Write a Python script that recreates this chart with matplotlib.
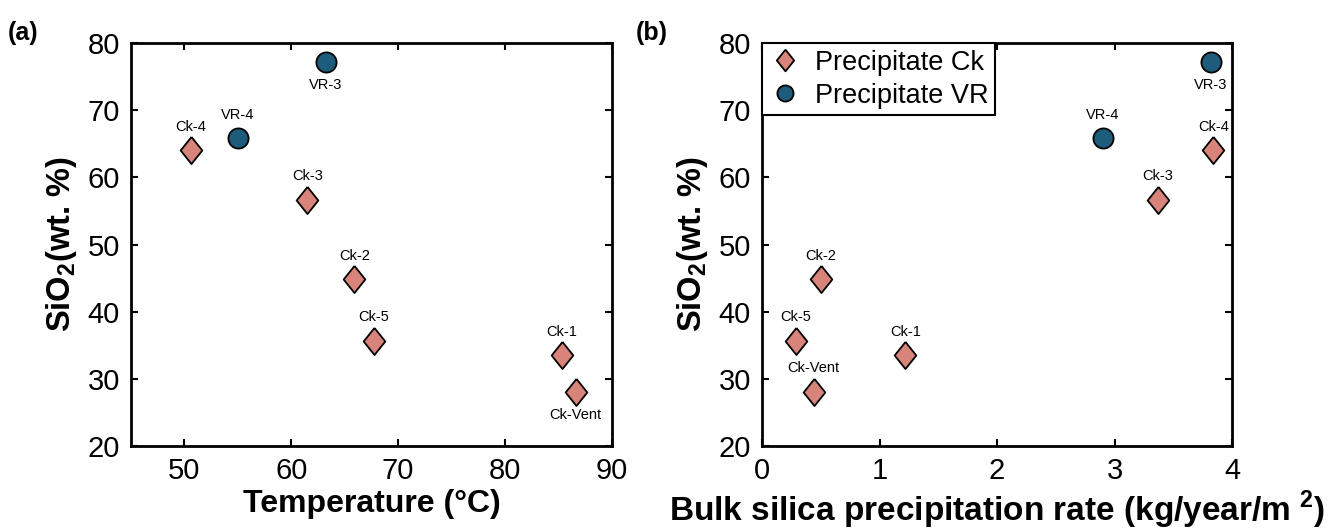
import matplotlib
matplotlib.use("Agg")
import matplotlib.pyplot as plt

plt.rcParams['font.family'] = ['Liberation Sans Narrow', 'Liberation Sans', 'DejaVu Sans']
plt.rcParams['mathtext.fontset'] = 'custom'
plt.rcParams['mathtext.rm'] = 'Liberation Sans'
plt.rcParams['mathtext.bf'] = 'Liberation Sans:bold'

# ---------------- Data ----------------
ck_names = ["Ck-4", "Ck-3", "Ck-2", "Ck-5", "Ck-1", "Ck-Vent"]
ck_temp = [50.6, 61.5, 65.9, 67.7, 85.3, 86.6]
ck_rate = [3.84, 3.37, 0.50, 0.29, 1.22, 0.44]
ck_sio2 = [64.0, 56.7, 44.8, 35.7, 33.5, 28.1]

vr_names = ["VR-4", "VR-3"]
vr_temp = [55.0, 63.2]
vr_rate = [2.90, 3.82]
vr_sio2 = [65.9, 77.2]

# label placement (above=+1, below=-1)
ck_pos_a = [1, 1, 1, 1, 1, -1]
ck_pos_b = [1, 1, 1, 1, 1, 1]
vr_pos = [1, -1]

ck_color = "#D8847A"
vr_color = "#1E5C7C"

# wider diamond than the stock 'd'
diamond = [(0, 1), (0.8, 0), (0, -1), (-0.8, 0), (0, 1)]
bold_sans = ["Liberation Sans", "DejaVu Sans"]

fig = plt.figure(figsize=(13.35, 5.29), dpi=100)
ax1 = fig.add_axes([0.0981, 0.1569, 0.3603, 0.7618])
ax2 = fig.add_axes([0.5708, 0.1569, 0.3521, 0.7618])


def draw(ax, ck_x, vr_x, ck_pos):
    ax.plot(ck_x, ck_sio2, linestyle="none", marker=diamond, markersize=19.5,
            markerfacecolor=ck_color, markeredgecolor="black", markeredgewidth=1.3,
            label="Precipitate Ck", zorder=3)
    ax.plot(vr_x, vr_sio2, linestyle="none", marker="o", markersize=14.5,
            markerfacecolor=vr_color, markeredgecolor="black", markeredgewidth=1.3,
            label="Precipitate VR", zorder=3)
    for name, x, y, p in zip(ck_names, ck_x, ck_sio2, ck_pos):
        ax.annotate(name, (x, y), xytext=(0, 12 * p), textcoords="offset points",
                    ha="center", va="bottom" if p > 0 else "top", fontsize=10.5)
    for name, x, y, p in zip(vr_names, vr_x, vr_sio2, vr_pos):
        ax.annotate(name, (x, y), xytext=(0, 11.5 * p), textcoords="offset points",
                    ha="center", va="bottom" if p > 0 else "top", fontsize=10.5)
    ax.set_ylim(20, 80)
    ax.set_yticks(range(20, 81, 10))
    ax.tick_params(direction="in", top=True, right=True, length=5, width=1.5,
                   labelsize=21, pad=8)
    for s in ax.spines.values():
        s.set_linewidth(2)
    ax.set_ylabel(r"SiO$_\mathbf{2}$(wt. %)", fontsize=23.5, fontweight="bold",
                  family=bold_sans, labelpad=6)


draw(ax1, ck_temp, vr_temp, ck_pos_a)
ax1.set_xlim(45, 90)
ax1.set_xticks(range(50, 91, 10))
ax1.set_xlabel("Temperature (°C)", fontsize=23, fontweight="bold",
               family=bold_sans, labelpad=3)

draw(ax2, ck_rate, vr_rate, ck_pos_b)
ax2.set_xlim(0, 4)
ax2.set_xticks(range(0, 5))
ax2.set_xlabel(r"Bulk silica precipitation rate (kg/year/m $^\mathbf{2}$)", fontsize=24,
               fontweight="bold", family=bold_sans, labelpad=3)
leg = ax2.legend(loc="upper left", fontsize=19.5, frameon=True, fancybox=False,
                 borderaxespad=0, handletextpad=0.5, borderpad=0.25, labelspacing=0.25,
                 handlelength=1.2, markerscale=0.8, framealpha=1)
leg.get_frame().set_edgecolor("black")
leg.get_frame().set_linewidth(1.5)

fig.text(0.006, 0.925, "(a)", fontsize=18, fontweight="bold", family=bold_sans)
fig.text(0.476, 0.925, "(b)", fontsize=18, fontweight="bold", family=bold_sans)

fig.savefig("out.png", dpi=100)
